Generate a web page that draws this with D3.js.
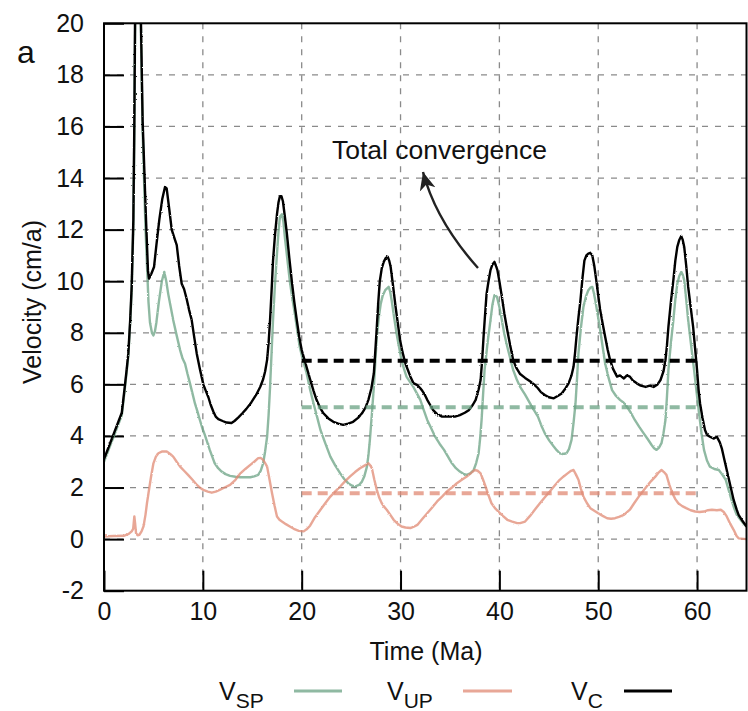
<!DOCTYPE html>
<html>
<head>
<meta charset="utf-8">
<script src="https://cdn.jsdelivr.net/npm/d3@7"></script>
<style>
  body { margin: 0; background: #fff; }
  text { font-family: "Liberation Sans", Arial, sans-serif; fill: #111; }
</style>
</head>
<body>
<div id="chart"></div>
<script>
// Dimensions
const width = 748, height = 711;
const plotLeft = 104, plotRight = 746.5, plotTop = 23.3, plotBottom = 590.7;

// axis ticks
const xTicks = [0, 10, 20, 30, 40, 50, 60];
const yTicks = [-2, 0, 2, 4, 6, 8, 10, 12, 14, 16, 18, 20];

// mean values over 20-60 Ma
const meanRange = [20, 60];
const meanC = 6.92, meanSP = 5.11, meanUP = 1.78;

// V_C : total convergence  [time Ma, velocity cm/a]
const vC = [[0,3.1],[0.5,3.6],[1,4.1],[1.5,4.6],[1.8,4.9],[2.1,5.9],[2.3,6.6],[2.46,7.2],[2.65,8.5],[2.8,9.8],[2.97,12.4],[3.07,16.2],[3.14,20],[3.42,29],[3.74,20],[3.91,16.2],[4.25,12.4],[4.45,10.4],[4.55,10.1],[4.8,10.3],[5.06,10.55],[5.3,11.4],[5.6,12.4],[5.9,13.2],[6.17,13.65],[6.34,13.6],[6.6,12.8],[6.85,12.0],[7.1,11.7],[7.36,11.4],[7.6,10.6],[7.86,9.9],[8.1,9.7],[8.37,9.3],[8.6,8.9],[8.87,8.5],[9.1,7.9],[9.38,7.2],[9.7,6.6],[10.05,6.0],[10.3,5.75],[10.56,5.5],[10.8,5.2],[11.07,4.94],[11.3,4.75],[11.57,4.65],[12.0,4.58],[12.4,4.52],[12.9,4.5],[13.2,4.58],[13.6,4.72],[14.0,4.88],[14.4,5.05],[14.9,5.3],[15.4,5.6],[15.8,5.9],[16.1,6.2],[16.3,6.5],[16.5,6.95],[16.65,7.6],[16.8,8.5],[16.95,9.6],[17.1,10.8],[17.3,11.8],[17.5,12.6],[17.65,13.05],[17.8,13.3],[17.95,13.3],[18.1,13.1],[18.3,12.5],[18.5,11.85],[18.75,10.9],[19.0,10.0],[19.25,9.2],[19.5,8.5],[19.75,7.85],[20.0,7.33],[20.4,6.8],[20.85,6.2],[21.2,5.75],[21.5,5.4],[21.85,5.1],[22.2,4.88],[22.7,4.68],[23.2,4.55],[23.7,4.48],[24.2,4.43],[24.7,4.48],[25.2,4.55],[25.7,4.7],[26.1,4.88],[26.45,5.1],[26.75,5.4],[27.05,5.85],[27.3,6.43],[27.45,7.3],[27.6,8.23],[27.75,9.2],[27.9,10.0],[28.1,10.5],[28.3,10.75],[28.5,10.9],[28.7,10.95],[28.85,10.8],[29.0,10.55],[29.25,9.8],[29.5,9.0],[29.75,8.3],[29.95,7.72],[30.2,7.25],[30.5,6.8],[31.0,6.3],[31.3,6.05],[31.7,5.97],[32.0,5.85],[32.2,5.75],[32.45,5.6],[32.7,5.4],[33.0,5.2],[33.3,5.0],[33.7,4.85],[34.2,4.75],[35.0,4.75],[35.5,4.75],[36.0,4.81],[36.5,4.9],[36.9,5.0],[37.3,5.2],[37.6,5.4],[37.9,5.8],[38.1,6.17],[38.25,6.9],[38.4,7.85],[38.55,8.7],[38.7,9.5],[38.9,10.0],[39.1,10.43],[39.3,10.65],[39.5,10.75],[39.65,10.6],[39.8,10.43],[40.0,10.0],[40.25,9.4],[40.5,8.75],[40.8,8.1],[41.1,7.5],[41.4,6.94],[41.7,6.65],[42.1,6.4],[42.6,6.25],[43.1,6.12],[43.5,6.0],[43.9,5.85],[44.2,5.7],[44.6,5.59],[45.0,5.5],[45.5,5.46],[45.9,5.55],[46.3,5.65],[46.7,5.85],[47.0,6.04],[47.3,6.35],[47.5,6.68],[47.65,7.2],[47.8,7.85],[48.0,8.6],[48.2,9.26],[48.4,10.1],[48.6,10.8],[48.8,11.0],[49.0,11.07],[49.2,11.1],[49.4,11.0],[49.6,10.6],[49.8,10.04],[50.0,9.45],[50.2,8.88],[50.45,8.35],[50.7,7.85],[50.95,7.35],[51.2,6.94],[51.5,6.6],[51.9,6.3],[52.2,6.35],[52.6,6.23],[52.9,6.35],[53.2,6.3],[53.5,6.15],[53.9,6.04],[54.3,5.95],[54.8,5.9],[55.2,5.95],[55.6,5.9],[56.0,6.0],[56.3,6.17],[56.6,6.5],[56.8,6.94],[56.95,7.5],[57.1,8.23],[57.35,9.2],[57.6,10.04],[57.8,10.8],[58.0,11.33],[58.2,11.6],[58.4,11.75],[58.55,11.6],[58.7,11.33],[58.9,10.6],[59.1,9.78],[59.35,9.0],[59.6,8.23],[59.8,7.4],[60.0,6.55],[60.15,5.8],[60.3,5.26],[60.55,4.7],[60.8,4.23],[61.0,4.05],[61.3,3.97],[61.7,3.9],[62.0,3.97],[62.3,3.75],[62.5,3.52],[62.75,3.1],[63.0,2.68],[63.35,2.1],[63.7,1.52],[64.0,1.15],[64.2,0.94],[64.6,0.7],[65.0,0.49]];

// V_SP : slab pull
const vSP = [[0,3.0],[0.5,3.5],[1,4.0],[1.5,4.5],[1.8,4.8],[2.1,5.8],[2.3,6.5],[2.46,7.1],[2.65,8.4],[2.8,9.6],[2.97,12.1],[3.07,15.6],[3.14,19.5],[3.42,28],[3.74,19.5],[3.91,15.8],[4.2,12.0],[4.35,10.6],[4.5,9.2],[4.65,8.4],[4.85,8.0],[5.0,7.9],[5.15,8.05],[5.3,8.4],[5.55,9.2],[5.85,10.0],[6.1,10.36],[6.3,10.0],[6.5,9.5],[6.75,9.0],[7.0,8.5],[7.35,7.9],[7.7,7.33],[7.95,7.0],[8.2,6.8],[8.45,6.4],[8.7,6.04],[8.95,5.65],[9.2,5.26],[9.45,4.95],[9.7,4.62],[9.95,4.3],[10.2,4.04],[10.45,3.75],[10.7,3.46],[10.95,3.2],[11.2,2.94],[11.55,2.75],[11.9,2.62],[12.3,2.52],[12.75,2.45],[13.3,2.42],[13.8,2.4],[14.3,2.4],[14.8,2.4],[15.2,2.43],[15.6,2.49],[15.85,2.65],[16.1,2.94],[16.3,3.4],[16.5,3.97],[16.65,4.8],[16.8,5.9],[16.95,7.2],[17.1,8.5],[17.3,9.9],[17.5,11.07],[17.65,11.9],[17.8,12.5],[18.0,12.6],[18.15,12.3],[18.3,11.7],[18.55,10.85],[18.8,10.0],[19.05,9.35],[19.3,8.75],[19.55,8.1],[19.8,7.46],[20.15,6.9],[20.5,6.43],[20.85,5.8],[21.2,5.26],[21.55,4.75],[21.9,4.23],[22.4,3.7],[22.9,3.2],[23.4,2.85],[23.9,2.55],[24.3,2.33],[24.7,2.17],[25.1,2.07],[25.4,2.04],[25.8,2.1],[26.1,2.23],[26.35,2.45],[26.6,2.81],[26.75,3.25],[26.9,3.85],[27.1,4.85],[27.3,5.9],[27.45,6.9],[27.6,7.85],[27.8,8.6],[28.0,9.13],[28.2,9.45],[28.45,9.65],[28.8,9.78],[28.95,9.6],[29.1,9.26],[29.35,8.6],[29.6,7.97],[29.85,7.45],[30.1,6.94],[30.35,6.6],[30.6,6.3],[30.95,6.1],[31.3,5.9],[31.65,5.65],[32.0,5.4],[32.35,5.0],[32.7,4.62],[33.1,4.3],[33.5,3.97],[33.95,3.7],[34.4,3.46],[34.8,3.2],[35.2,2.94],[35.6,2.75],[36.0,2.62],[36.35,2.53],[36.7,2.49],[37.05,2.55],[37.4,2.68],[37.65,2.95],[37.9,3.33],[38.05,3.9],[38.2,4.62],[38.35,5.6],[38.5,6.55],[38.8,7.6],[39.1,8.49],[39.3,9.1],[39.5,9.46],[39.75,9.4],[40.0,9.0],[40.25,8.49],[40.5,7.95],[40.8,7.46],[41.1,7.0],[41.4,6.55],[41.75,6.2],[42.1,5.9],[42.6,5.6],[43.1,5.26],[43.5,5.0],[43.9,4.75],[44.25,4.4],[44.6,4.1],[45.05,3.82],[45.5,3.59],[45.8,3.45],[46.1,3.33],[46.45,3.3],[46.8,3.33],[47.05,3.5],[47.3,3.85],[47.5,4.5],[47.7,5.26],[47.85,6.2],[48.0,7.2],[48.25,8.2],[48.5,9.0],[48.75,9.4],[49.0,9.65],[49.2,9.75],[49.4,9.78],[49.55,9.55],[49.7,9.26],[49.95,8.7],[50.2,8.1],[50.45,7.45],[50.7,6.81],[51.05,6.25],[51.4,5.78],[51.8,5.55],[52.2,5.4],[52.55,5.3],[52.9,5.14],[53.3,4.9],[53.7,4.62],[54.15,4.35],[54.6,4.1],[55.0,3.88],[55.4,3.65],[55.65,3.52],[55.9,3.46],[56.15,3.55],[56.4,3.72],[56.6,4.1],[56.8,4.62],[56.95,5.5],[57.1,6.55],[57.35,7.6],[57.6,8.49],[57.8,9.3],[58.0,9.9],[58.2,10.2],[58.4,10.36],[58.55,10.25],[58.7,10.04],[58.9,9.3],[59.1,8.49],[59.4,7.5],[59.7,6.55],[59.95,5.7],[60.2,4.88],[60.45,4.1],[60.7,3.46],[61.0,3.05],[61.3,2.81],[61.75,2.72],[62.2,2.68],[62.55,2.5],[62.9,2.3],[63.2,1.9],[63.5,1.5],[63.75,1.2],[64.0,0.95],[64.3,0.8],[64.6,0.65],[65.0,0.48]];

// V_UP : upper plate
const vUP = [[0,0.1],[1,0.12],[2.0,0.13],[2.5,0.2],[2.8,0.3],[2.95,0.4],[3.07,0.88],[3.15,0.6],[3.24,0.23],[3.4,0.15],[3.58,0.17],[3.8,0.3],[4.0,0.5],[4.2,0.95],[4.35,1.4],[4.5,1.78],[4.75,2.4],[5.0,2.94],[5.25,3.2],[5.5,3.33],[5.9,3.4],[6.34,3.4],[6.7,3.3],[7.0,3.2],[7.35,3.0],[7.7,2.81],[8.1,2.65],[8.5,2.49],[8.95,2.3],[9.4,2.1],[9.75,1.98],[10.05,1.91],[10.5,1.84],[10.9,1.8],[11.3,1.84],[11.7,1.91],[12.2,2.0],[12.75,2.1],[13.3,2.3],[13.8,2.55],[14.3,2.72],[14.8,2.88],[15.2,3.0],[15.6,3.14],[15.85,3.15],[16.1,3.07],[16.3,2.95],[16.5,2.81],[16.75,2.3],[17.0,1.78],[17.25,1.3],[17.5,0.88],[17.75,0.75],[18.0,0.68],[18.4,0.58],[18.8,0.49],[19.2,0.4],[19.7,0.32],[20.2,0.3],[20.5,0.38],[20.85,0.52],[21.35,0.85],[21.9,1.14],[22.4,1.4],[22.9,1.65],[23.4,1.85],[23.9,2.04],[24.4,2.25],[24.9,2.43],[25.4,2.6],[25.9,2.75],[26.35,2.85],[26.75,2.94],[26.95,2.85],[27.1,2.75],[27.35,2.3],[27.6,1.91],[27.85,1.6],[28.1,1.39],[28.35,1.25],[28.6,1.14],[28.95,0.95],[29.3,0.75],[29.7,0.6],[30.1,0.49],[30.5,0.45],[31.0,0.43],[31.35,0.48],[31.7,0.55],[32.2,0.78],[32.7,1.0],[33.2,1.23],[33.7,1.46],[34.2,1.65],[34.7,1.85],[35.2,2.0],[35.7,2.17],[36.2,2.3],[36.7,2.43],[37.1,2.55],[37.5,2.68],[37.8,2.65],[38.1,2.55],[38.35,2.3],[38.6,2.04],[38.9,1.7],[39.2,1.39],[39.55,1.2],[39.9,1.07],[40.35,0.9],[40.8,0.75],[41.3,0.68],[41.8,0.62],[42.1,0.62],[42.6,0.68],[43.1,0.9],[43.6,1.15],[44.1,1.39],[44.6,1.62],[45.1,1.85],[45.6,2.08],[46.1,2.3],[46.5,2.43],[46.9,2.55],[47.25,2.65],[47.5,2.68],[47.75,2.5],[48.0,2.3],[48.25,1.95],[48.5,1.65],[48.85,1.4],[49.2,1.2],[49.6,1.1],[50.0,1.0],[50.45,0.9],[50.9,0.81],[51.3,0.79],[51.7,0.81],[52.1,0.86],[52.6,0.94],[53.2,1.14],[53.65,1.4],[54.1,1.65],[54.5,1.85],[54.9,2.04],[55.35,2.25],[55.8,2.43],[56.1,2.58],[56.4,2.68],[56.65,2.6],[56.9,2.49],[57.2,2.1],[57.5,1.78],[57.8,1.55],[58.1,1.39],[58.5,1.28],[58.9,1.2],[59.35,1.12],[59.8,1.07],[60.25,1.05],[60.7,1.07],[61.1,1.12],[61.5,1.14],[62.0,1.12],[62.4,1.14],[62.7,1.05],[63.0,0.88],[63.35,0.6],[63.7,0.36],[64.0,0.12],[64.2,0.03],[65.0,0.0]];

const green = "#6aa283", salmon = "#e08a74";

const svg = d3.select("#chart").append("svg")
  .attr("width", width)
  .attr("height", height);

const x = d3.scaleLinear().domain([0, 65]).range([plotLeft, plotRight]);
const y = d3.scaleLinear().domain([-2, 20]).range([plotBottom, plotTop]);

const defs = svg.append("defs");
defs.append("clipPath").attr("id", "plotclip")
  .append("rect")
  .attr("x", plotLeft).attr("y", plotTop)
  .attr("width", plotRight - plotLeft).attr("height", plotBottom - plotTop);

// slight roughness so the model output looks like the noisy original traces
const rough = defs.append("filter").attr("id", "rough")
  .attr("x", "-2%").attr("y", "-2%").attr("width", "104%").attr("height", "104%");
rough.append("feTurbulence").attr("type", "fractalNoise")
  .attr("baseFrequency", "1.2 0.9").attr("numOctaves", 1).attr("seed", 3).attr("result", "n");
rough.append("feDisplacementMap").attr("in", "SourceGraphic").attr("in2", "n")
  .attr("scale", 2.2).attr("xChannelSelector", "R").attr("yChannelSelector", "G");

// grid
const grid = svg.append("g").attr("stroke", "#8a8a8a").attr("stroke-width", 1.3).attr("stroke-dasharray", "6,7");
grid.selectAll(".gx").data(xTicks.filter(d => d > 0))
  .enter().append("line")
  .attr("x1", d => x(d)).attr("x2", d => x(d))
  .attr("y1", plotTop).attr("y2", plotBottom);
grid.selectAll(".gy").data(yTicks.filter(d => d > -2 && d < 20))
  .enter().append("line")
  .attr("x1", plotLeft).attr("x2", plotRight)
  .attr("y1", d => y(d)).attr("y2", d => y(d));

// axes (inward ticks)
const yAxis = svg.append("g")
  .attr("transform", `translate(${plotLeft},0)`)
  .call(d3.axisLeft(y).tickValues(yTicks).tickFormat(d => String(d)).tickSize(-20).tickPadding(20));
const xAxis = svg.append("g")
  .attr("transform", `translate(0,${plotBottom})`)
  .call(d3.axisBottom(x).tickValues(xTicks).tickFormat(d => String(d)).tickSize(-20).tickPadding(12));
[xAxis, yAxis].forEach(a => {
  a.select(".domain").remove();
  a.selectAll(".tick line").attr("stroke", "#000").attr("stroke-width", 2);
  a.selectAll(".tick text")
    .style("font-family", '"Liberation Sans", Arial, sans-serif')
    .style("font-size", "25px").attr("fill", "#111");
});

// curves
const line = d3.line().x(d => x(d[0])).y(d => y(d[1]));
const curves = svg.append("g").attr("clip-path", "url(#plotclip)").append("g")
  .attr("filter", "url(#rough)").attr("fill", "none")
  .attr("stroke-linejoin", "round");
curves.append("path").datum(vSP).attr("d", line)
  .attr("stroke", green).attr("stroke-opacity", 0.75).attr("stroke-width", 2.4);
curves.append("path").datum(vUP).attr("d", line)
  .attr("stroke", salmon).attr("stroke-opacity", 0.75).attr("stroke-width", 2.4);
curves.append("path").datum(vC).attr("d", line)
  .attr("stroke", "#000").attr("stroke-width", 2.4);

// mean dashed lines
const means = [[meanSP, green, 0.75], [meanUP, salmon, 0.75], [meanC, "#000", 1]];
svg.append("g").selectAll("line").data(means).enter().append("line")
  .attr("x1", x(meanRange[0])).attr("x2", x(meanRange[1]))
  .attr("y1", d => y(d[0])).attr("y2", d => y(d[0]))
  .attr("stroke", d => d[1]).attr("stroke-opacity", d => d[2])
  .attr("stroke-width", 4).attr("stroke-dasharray", "10,6");

// frame
svg.append("rect")
  .attr("x", plotLeft).attr("y", plotTop)
  .attr("width", plotRight - plotLeft).attr("height", plotBottom - plotTop)
  .attr("fill", "none").attr("stroke", "#000").attr("stroke-width", 2);

// annotation
defs.append("marker")
  .attr("id", "arrow").attr("viewBox", "-18 -9 20 18")
  .attr("markerWidth", 20).attr("markerHeight", 18)
  .attr("markerUnits", "userSpaceOnUse")
  .attr("refX", 0).attr("refY", 0).attr("orient", "auto")
  .append("path").attr("d", "M0,0 L-18,-8 L-13,0 L-18,8 Z").attr("fill", "#222");
svg.append("path")
  .attr("d", "M478,268 Q436,221 423,172")
  .attr("fill", "none").attr("stroke", "#222").attr("stroke-width", 2.4)
  .attr("marker-end", "url(#arrow)");
svg.append("text").attr("x", 332).attr("y", 159)
  .style("font-size", "26.5px").text("Total convergence");

// labels
svg.append("text").attr("x", 17).attr("y", 63).style("font-size", "32px").text("a");
svg.append("text").attr("x", 426).attr("y", 660).attr("text-anchor", "middle")
  .style("font-size", "25px").text("Time (Ma)");
svg.append("text").attr("transform", "translate(41,302) rotate(-90)")
  .attr("text-anchor", "middle").style("font-size", "25px").text("Velocity (cm/a)");

// legend
const legend = [
  { main: "V", sub: "SP", tx: 219, x1: 294, x2: 342, color: green, op: 0.75 },
  { main: "V", sub: "UP", tx: 387, x1: 463, x2: 512, color: salmon, op: 0.75 },
  { main: "V", sub: "C", tx: 571, x1: 624, x2: 672, color: "#000", op: 1 }
];
const lg = svg.append("g");
legend.forEach(d => {
  const t = lg.append("text").attr("x", d.tx).attr("y", 700).style("font-size", "25px");
  t.append("tspan").text(d.main);
  t.append("tspan").attr("dy", 8).style("font-size", "21px").text(d.sub);
  lg.append("line").attr("x1", d.x1).attr("x2", d.x2).attr("y1", 691).attr("y2", 691)
    .attr("stroke", d.color).attr("stroke-opacity", d.op).attr("stroke-width", 3);
});
</script>
</body>
</html>
